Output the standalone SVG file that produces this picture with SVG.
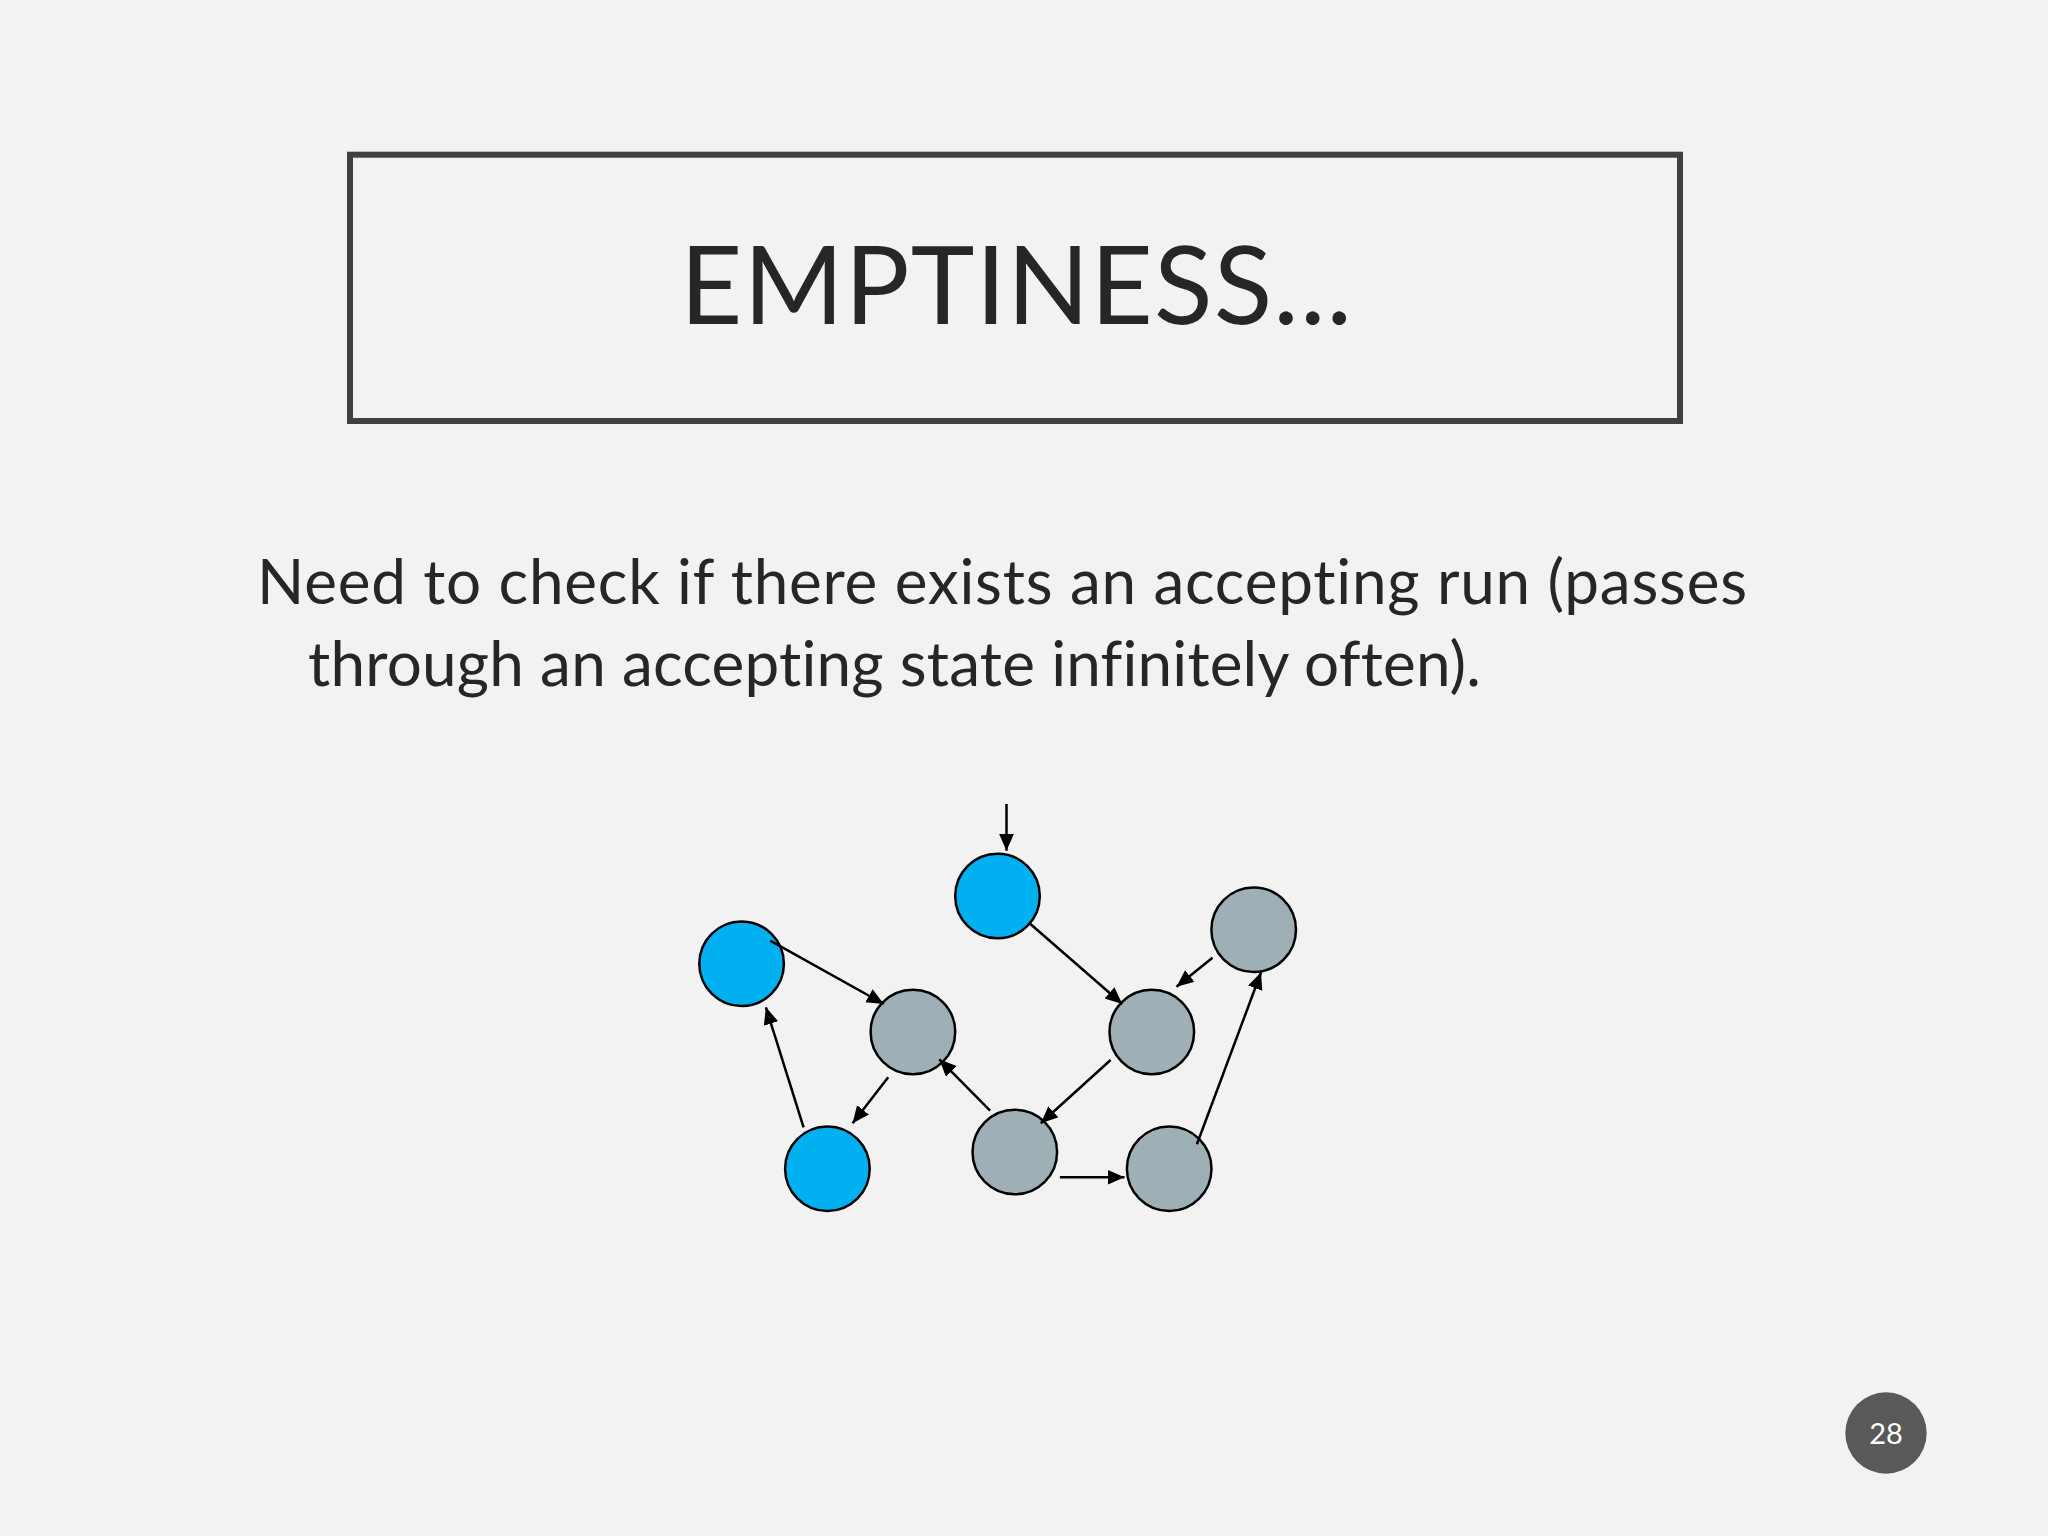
<svg xmlns="http://www.w3.org/2000/svg" width="2048" height="1536" viewBox="0 0 2048 1536">
<style>
text{font-variant-ligatures:none;font-feature-settings:"liga" 0,"clig" 0,"dlig" 0;}
.title{font-family:Lato,"Open Sans","Liberation Sans",sans-serif;font-size:108px;fill:#262626;}
.body{font-family:Lato,"Open Sans","Liberation Sans",sans-serif;font-size:62px;fill:#262626;}
.acc{fill:#00B0F0;stroke:#000;stroke-width:2.5;}
.st{fill:#9EAFB5;stroke:#000;stroke-width:2.5;}
.edge{stroke:#000;stroke-width:2.5;fill:none;marker-end:url(#ah);}
.pg{font-family:Lato,"Open Sans","Liberation Sans",sans-serif;font-size:29px;fill:#fff;}
</style>
<defs>
<marker id="ah" markerUnits="userSpaceOnUse" markerWidth="18" markerHeight="16" refX="17" refY="7.5" orient="auto">
<path d="M0,0 L17,7.5 L0,15 Z" fill="#000"/>
</marker>
</defs>
<rect width="2048" height="1536" fill="#F2F2F2"/>
<g id="title">
<rect x="350" y="154.7" width="1330" height="266.3" fill="none" stroke="#404040" stroke-width="6"/>
<text class="title" x="680" y="324" textLength="672" lengthAdjust="spacing">EMPTINESS...</text>
</g>
<g id="body">
<text class="body" x="257" y="604" textLength="1490" lengthAdjust="spacing">Need to check if there exists an accepting run (passes</text>
<text class="body" x="308" y="686" textLength="1173" lengthAdjust="spacing">through an accepting state infinitely often).</text>
</g>
<g id="nodes">
<g id="n-top"><circle class="acc" cx="997.5" cy="896" r="42.3"/></g>
<g id="n-left"><circle class="acc" cx="741.6" cy="963.7" r="42.3"/></g>
<g id="n-midleft"><circle class="st" cx="912.9" cy="1032" r="42.3"/></g>
<g id="n-bottomleft"><circle class="acc" cx="827.4" cy="1168.7" r="42.3"/></g>
<g id="n-bottommid"><circle class="st" cx="1014.8" cy="1152" r="42.3"/></g>
<g id="n-midright"><circle class="st" cx="1151.8" cy="1032" r="42.3"/></g>
<g id="n-topright"><circle class="st" cx="1253.7" cy="929.7" r="42.3"/></g>
<g id="n-bottomright"><circle class="st" cx="1169.2" cy="1168.7" r="42.3"/></g>
</g>
<g id="connectors">
<line class="edge" x1="1006.5" y1="804" x2="1006.5" y2="850.7"/>
<line class="edge" x1="770.2" y1="940.7" x2="883.8" y2="1004"/>
<line class="edge" x1="1030.4" y1="924" x2="1122.3" y2="1004"/>
<line class="edge" x1="1212.5" y1="957.7" x2="1176.5" y2="986.7"/>
<line class="edge" x1="888.2" y1="1077.3" x2="852.6" y2="1123.3"/>
<line class="edge" x1="803.6" y1="1127.3" x2="765.9" y2="1007.3"/>
<line class="edge" x1="990.1" y1="1110.7" x2="939.3" y2="1059.3"/>
<line class="edge" x1="1110.6" y1="1060" x2="1040.8" y2="1123.3"/>
<line class="edge" x1="1059.9" y1="1177.3" x2="1124.5" y2="1177.3"/>
<line class="edge" x1="1196.9" y1="1144.3" x2="1261.1" y2="972.3"/>
</g>
<g id="page-number">
<circle cx="1886" cy="1433" r="40.7" fill="#595959"/>
<text class="pg" x="1886" y="1444" text-anchor="middle">28</text>
</g>
</svg>
